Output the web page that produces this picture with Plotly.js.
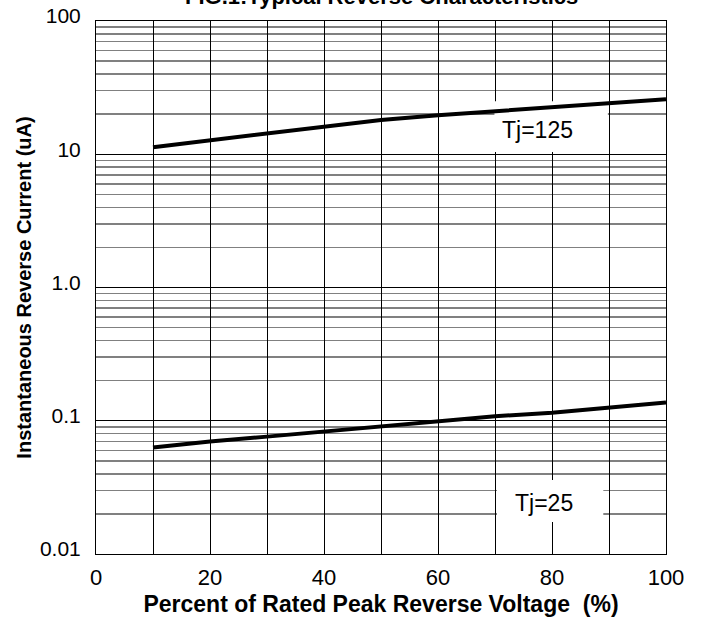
<!DOCTYPE html>
<html>
<head>
<meta charset="utf-8">
<script src="https://cdn.plot.ly/plotly-3.0.1.min.js"></script>
<style>html,body{margin:0;padding:0;background:#fff;}#chart{width:708px;height:622px;}</style>
</head>
<body>
<div id="chart"></div>
<script>
// Data
const percentVoltage = [10, 20, 30, 40, 50, 60, 70, 80, 90, 100];
const current125 = [11.3, 12.7, 14.5, 16.3, 18.1, 19.6, 21.0, 22.6, 24.2, 25.9];
const current25 = [0.063, 0.070, 0.076, 0.083, 0.092, 0.100, 0.108, 0.115, 0.126, 0.137];

const xTickVals = [0, 10, 20, 30, 40, 50, 60, 70, 80, 90, 100];
const xTickText = ['0', '', '20', '', '40', '', '60', '', '80', '', '100'];
const yTickVals = [0.01, 0.1, 1, 10, 100];
const yTickText = ['0.01', '0.1', '1.0', '10', '100'];

const chartTitle = 'FIG.1:Typical Reverse Characteristics';
const label125 = 'Tj=125';
const label25 = 'Tj=25';

// minor grid values (2..9 per decade)
const yMinor = [];
[0.01, 0.1, 1, 10].forEach(d => { for (let k = 2; k <= 9; k++) yMinor.push(+(d * k).toPrecision(3)); });

const font = 'Liberation Sans, Arial, sans-serif';

const traces = [
  {x: percentVoltage, y: current125, mode: 'lines', line: {color: '#000', width: 4}, hoverinfo: 'skip'},
  {x: percentVoltage, y: current25, mode: 'lines', line: {color: '#000', width: 4}, hoverinfo: 'skip'}
];

const layout = {
  width: 708, height: 622,
  margin: {l: 96, r: 42, t: 21, b: 68},
  paper_bgcolor: '#fff', plot_bgcolor: '#fff',
  showlegend: false,
  font: {family: font, color: '#000'},
  xaxis: {
    range: [0, 100], tickmode: 'array', tickvals: xTickVals, ticktext: xTickText,
    showgrid: true, gridcolor: '#000', gridwidth: 1,
    showline: true, linecolor: '#000', linewidth: 1, mirror: true,
    ticks: '', zeroline: false, ticklabelstandoff: 4,
    tickfont: {family: font, size: 22},
    title: {text: '<b>Percent of Rated Peak Reverse Voltage  (%)</b>', font: {size: 23, family: font}, standoff: 6}
  },
  yaxis: {
    type: 'log', range: [-2, 2], tickmode: 'array', tickvals: yTickVals, ticktext: yTickText,
    showgrid: true, gridcolor: '#000', gridwidth: 1,
    showline: true, linecolor: '#000', linewidth: 1, mirror: true,
    ticks: '', zeroline: false, ticklabelstandoff: 10, ticklabelshift: -5,
    tickfont: {family: font, size: 21},
    minor: {tickmode: 'array', tickvals: yMinor, showgrid: true, gridcolor: '#808080', gridwidth: 1.5, ticks: ''},
    title: {text: '<b>Instantaneous Reverse Current (uA)</b>', font: {size: 20, family: font}, standoff: 2}
  },
  shapes: [
    {type: 'rect', xref: 'x', yref: 'y', x0: 69.9, x1: 89.8, y0: 10.4, y1: 25,
     fillcolor: '#fff', line: {width: 0}, layer: 'between'},
    {type: 'rect', xref: 'x', yref: 'y', x0: 70.35, x1: 89, y0: 0.0174, y1: 0.0359,
     fillcolor: '#fff', line: {width: 0}, layer: 'between'}
  ],
  annotations: [
    {x: 77.46, y: Math.log10(15.3), xref: 'x', yref: 'y', text: label125, showarrow: false,
     font: {size: 23, family: font}},
    {x: 78.56, y: Math.log10(0.0243), xref: 'x', yref: 'y', text: label25, showarrow: false,
     font: {size: 23, family: font}},
    {x: 0.5, y: 1.019, xref: 'paper', yref: 'paper', xanchor: 'center', yanchor: 'bottom',
     text: '<b>' + chartTitle + '</b>', showarrow: false, font: {size: 22, family: font}}
  ]
};

Plotly.newPlot('chart', traces, layout, {staticPlot: true, displayModeBar: false});
</script>
</body>
</html>
